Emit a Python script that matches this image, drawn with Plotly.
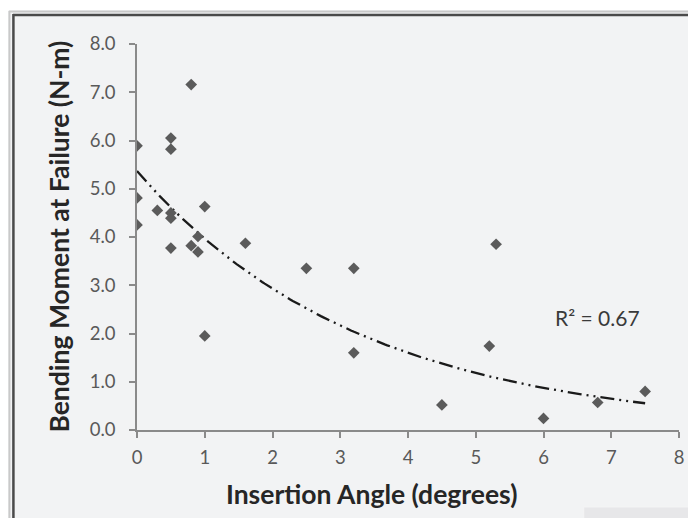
import numpy as np
import plotly.graph_objects as go

# Data
angle_deg = [0, 0, 0, 0.3, 0.5, 0.5, 0.5, 0.5, 0.5, 0.8, 0.8, 0.9, 0.9, 1.0, 1.0,
             1.6, 2.5, 3.2, 3.2, 4.5, 5.2, 5.3, 6.0, 6.8, 7.5]
moment_nm = [5.89, 4.81, 4.25, 4.55, 6.05, 5.82, 4.50, 4.39, 3.77, 7.16, 3.82, 4.01, 3.69,
             4.63, 1.95, 3.87, 3.35, 3.35, 1.60, 0.52, 1.74, 3.85, 0.24, 0.57, 0.80]
x_ticks = [0, 1, 2, 3, 4, 5, 6, 7, 8]
y_ticks = [0, 1, 2, 3, 4, 5, 6, 7, 8]
r2_label = "R² = 0.67"

# Exponential trendline (Excel-style: linear fit of ln(y))
b, ln_a = np.polyfit(np.array(angle_deg), np.log(np.array(moment_nm)), 1)
trend_x = np.linspace(min(angle_deg), max(angle_deg), 200)
trend_y = np.exp(ln_a) * np.exp(b * trend_x)

# page body has an 8px margin, so the figure starts at (8, 8) in the window
OFF = 8
W, H = 696 - OFF, 518 - OFF
L, T = 137 - OFF, 44 - OFF
pw, ph = 546, 386
R, B = W - L - pw, H - T - ph


def xp(px):
    return (px - OFF - L) / pw


def yp(py):
    return (H - B - (py - OFF)) / ph


fig = go.Figure()
fig.add_trace(go.Scatter(
    x=trend_x, y=trend_y, mode="lines",
    line=dict(color="#1a1a1a", width=2.3, dash="14px,5px,2px,5px,2px,5px"),
    hoverinfo="skip", showlegend=False))
fig.add_trace(go.Scatter(
    x=angle_deg, y=moment_nm, mode="markers",
    marker=dict(symbol="diamond", size=9, color="#5b5b5b"),
    showlegend=False))

shapes = [
    # white top strip
    dict(type="rect", xref="paper", yref="paper", x0=xp(0), x1=xp(705), y0=yp(10.5), y1=yp(0),
         fillcolor="white", line_width=0, layer="below"),
    # light outer frame line
    dict(type="line", xref="paper", yref="paper", x0=xp(8.5), x1=xp(8.5), y0=yp(11), y1=yp(530),
         line=dict(color="#c9c9c9", width=2), layer="below"),
    dict(type="line", xref="paper", yref="paper", x0=xp(8), x1=xp(705), y0=yp(11.5), y1=yp(11.5),
         line=dict(color="#c9c9c9", width=2), layer="below"),
    # dark frame line
    dict(type="line", xref="paper", yref="paper", x0=xp(12.5), x1=xp(12.5), y0=yp(14), y1=yp(530),
         line=dict(color="#4a4a4a", width=2.5), layer="below"),
    dict(type="line", xref="paper", yref="paper", x0=xp(12), x1=xp(705), y0=yp(15), y1=yp(15),
         line=dict(color="#4a4a4a", width=2.5), layer="below"),
    # bottom-right patch
    dict(type="rect", xref="paper", yref="paper", x0=xp(587), x1=xp(705), y0=yp(530), y1=yp(507),
         fillcolor="#e7e7e9", line=dict(color="#f4f4f5", width=1), layer="below"),
]

annotations = [
    dict(text="<b>Bending Moment at Failure (N-m)</b>", xref="paper", yref="paper",
         x=xp(58), y=yp(237), textangle=-90, showarrow=False,
         xanchor="center", yanchor="middle",
         font=dict(family="Lato", size=26.5, color="#262626")),
    dict(text="<b>Insertion Angle (degrees)</b>", xref="paper", yref="paper",
         x=xp(373), y=yp(494), showarrow=False, xanchor="center", yanchor="middle",
         font=dict(family="Lato", size=26.5, color="#262626")),
    dict(text=r2_label, xref="x", yref="y", x=(601 - 137) / pw * 8, y=(430 - 317) / ph * 8,
         showarrow=False, xanchor="center", yanchor="middle",
         font=dict(family="Lato", size=21, color="#3a3a3a")),
]

fig.update_layout(
    width=W, height=H,
    margin=dict(l=L, r=R, t=T, b=B),
    paper_bgcolor="#f2f3f4", plot_bgcolor="rgba(0,0,0,0)",
    shapes=shapes, annotations=annotations,
    xaxis=dict(range=[0, 8], tickvals=x_ticks, ticktext=[str(v) for v in x_ticks],
               showgrid=False, zeroline=False, showline=True, linecolor="#8a8a8a", linewidth=1.5,
               ticks="outside", ticklen=6, tickcolor="#8a8a8a", tickwidth=1.5,
               tickfont=dict(family="Lato", size=18.5, color="#595959"), ticklabelstandoff=4),
    yaxis=dict(range=[0, 8], tickvals=y_ticks, ticktext=[f"{v:.1f}" for v in y_ticks],
               showgrid=False, zeroline=False, showline=True, linecolor="#8a8a8a", linewidth=1.5,
               ticks="outside", ticklen=6, tickcolor="#8a8a8a", tickwidth=1.5,
               tickfont=dict(family="Lato", size=18.5, color="#595959"), ticklabelstandoff=10),
)

fig.write_html("out.html")
